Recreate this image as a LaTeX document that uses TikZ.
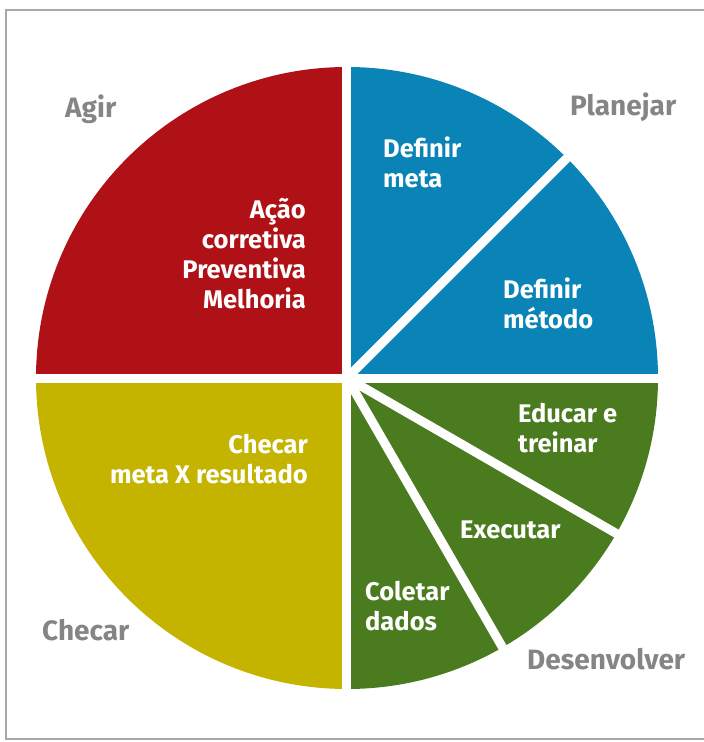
\documentclass[tikz,border=0pt]{standalone}
\usepackage{fontspec}
\setmainfont{Fira Sans}
\usepackage{tikz}

\definecolor{agirred}{HTML}{B01116}
\definecolor{planblue}{HTML}{0A84B6}
\definecolor{devgreen}{HTML}{4B7B1F}
\definecolor{checkyellow}{HTML}{C4B400}
\definecolor{labelgray}{HTML}{858585}
\definecolor{framegray}{HTML}{A8A8A8}

\begin{document}
\begin{tikzpicture}[x=1pt, y=1pt,
  phase/.style = {font=\fontsize{28}{32}\selectfont\bfseries, text=labelgray, inner sep=0pt},
  inlabel/.style = {font=\fontsize{25.5}{30}\selectfont\bfseries, text=white, inner sep=0pt},
  gap/.style = {white, line width=9pt}
]

% Page size and frame
\useasboundingbox (-347,-364) rectangle (357,378);
\clip (-347,-364) rectangle (357,378);
\draw[framegray, line width=1.6pt] (-341,-361) rectangle (372,368);

\coordinate (c) at (0,0);

% Quadrants
\fill[agirred] (c) -- (90:311) arc (90:180:311) -- cycle;
\fill[checkyellow] (c) -- (180:311) arc (180:270:311) -- cycle;
\fill[planblue] (c) -- (0:311) arc (0:90:311) -- cycle;
\fill[devgreen] (c) -- (270:311) arc (270:360:311) -- cycle;

% Gaps between the slices
\draw[gap] (180:320) -- (0:320);
\draw[gap] (90:320) -- (270:320);
\draw[gap] (c) -- (45:320);
\draw[gap] (c) -- (-30:320);
\draw[gap] (c) -- (-60:320);

% Phase names
\node[phase, anchor=base west] (agir) at (-282,260) {Agir};
\node[phase, anchor=base west] (planejar) at (223,262) {Planejar};
\node[phase, anchor=base west] (checar) at (-305,-262) {Checar};
\node[phase, anchor=base west] (desenvolver) at (180,-291) {Desenvolver};

% Texts inside the slices (base = last line)
\node[inlabel, align=right, anchor=base east] (acao) at (-41,70) {Ação\\corretiva\\Preventiva\\Melhoria};
\node[inlabel, align=right, anchor=base east] (meta) at (-39,-105) {Checar\\meta X resultado};
\node[inlabel, align=left, anchor=base west] (defmeta) at (36,190) {Definir\\meta};
\node[inlabel, align=left, anchor=base west] (defmetodo) at (156,50) {Definir\\método};
\node[inlabel, align=left, anchor=base west] (educar) at (171,-74) {Educar e\\treinar};
\node[inlabel, anchor=base west] (executar) at (113,-160) {Executar};
\node[inlabel, align=left, anchor=base west] (coletar) at (18,-252) {Coletar\\dados};

\end{tikzpicture}
\end{document}
